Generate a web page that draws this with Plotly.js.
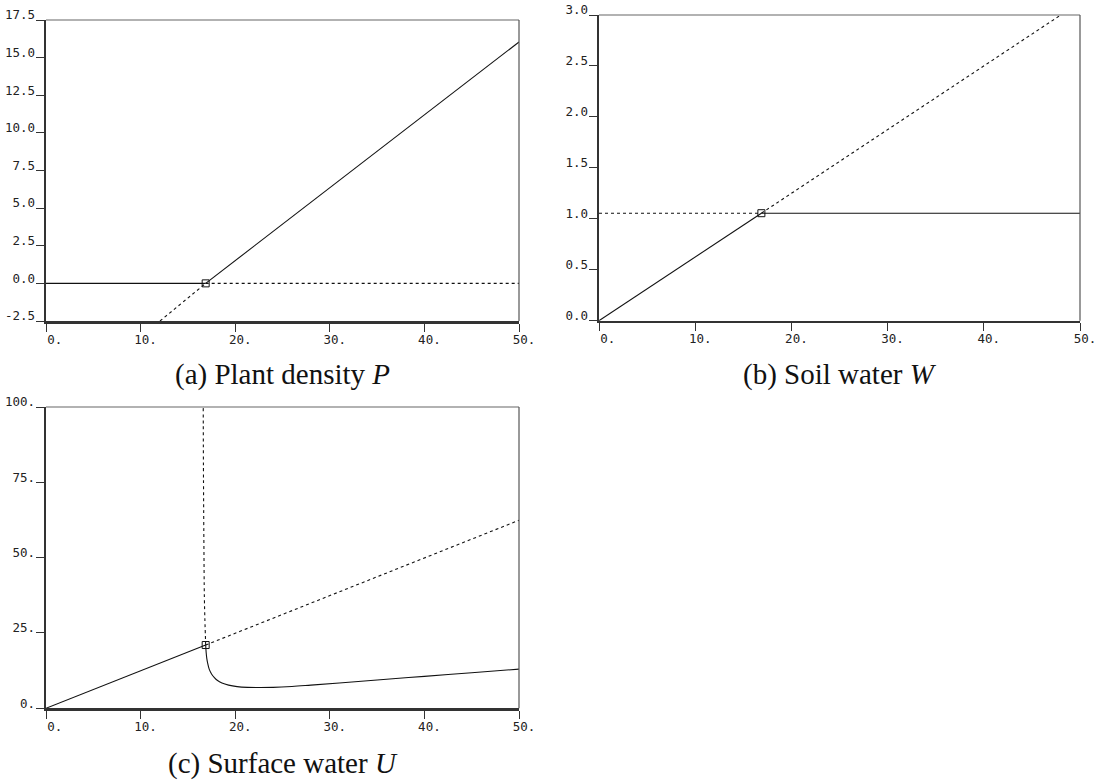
<!DOCTYPE html>
<html>
<head>
<meta charset="utf-8">
<script src="https://cdn.plot.ly/plotly-3.0.1.min.js"></script>
<style>html,body{margin:0;padding:0;background:#fff}#chart{width:1097px;height:781px}</style>
</head>
<body>
<div id="chart"></div>
<script>
// ---------- data ----------
// bifurcation point (transcritical)
const bifR = [16.88];
const bifP = [0];
const bifW = [1.055];
const bifU = [21.0];

// (a) Plant density P
const aTrivStableR = [0, 16.88];
const aTrivStableP = [0, 0];
const aTrivUnstR = [16.88, 50];
const aTrivUnstP = [0, 0];
const aVegStableR = [16.88, 30, 50];
const aVegStableP = [0, 6.35, 16.04];
const aVegUnstR = [12.05, 14.5, 16.88];
const aVegUnstP = [-2.5, -1.22, 0];

// (b) Soil water W
const bTrivStableR = [0, 16.88];
const bTrivStableW = [0, 1.055];
const bTrivUnstR = [16.88, 48.0];
const bTrivUnstW = [1.055, 3.0];
const bVegStableR = [16.88, 50];
const bVegStableW = [1.055, 1.055];
const bVegUnstR = [0, 16.88];
const bVegUnstW = [1.055, 1.055];

// (c) Surface water U
const cTrivStableR = [0, 16.88];
const cTrivStableU = [0, 21.0];
const cTrivUnstR = [16.88, 50];
const cTrivUnstU = [21.0, 62.4];
const cVegStableR = [16.88, 16.93, 17.0, 17.1, 17.25, 17.5, 17.8, 18.1, 18.6, 19.3, 20.2, 21.3, 22.5, 24, 26, 28, 31, 35, 40, 45, 50];
const cVegStableU = [21.0, 18.5, 16.5, 14.8, 13.0, 11.4, 10.2, 9.3, 8.4, 7.7, 7.2, 6.95, 6.9, 6.95, 7.25, 7.7, 8.4, 9.4, 10.6, 11.8, 13.0];
const cVegUnstR = [16.88, 16.85, 16.8, 16.74, 16.69, 16.65, 16.62];
const cVegUnstU = [21.0, 24, 29, 37, 55, 75, 100];

// tick labels
const xTickVals = [0, 10, 20, 30, 40, 50];
const xTickText = ['\u00a00.', '10.', '20.', '30.', '40.', '50.'];
const aTickVals = [-2.5, 0, 2.5, 5, 7.5, 10, 12.5, 15, 17.5];
const aTickText = ['-2.5', '0.0', '2.5', '5.0', '7.5', '10.0', '12.5', '15.0', '17.5'];
const bTickVals = [0, 0.5, 1, 1.5, 2, 2.5, 3];
const bTickText = ['0.0', '0.5', '1.0', '1.5', '2.0', '2.5', '3.0'];
const cTickVals = [0, 25, 50, 75, 100];
const cTickText = ['0.', '25.', '50.', '75.', '100.'];

const captions = ['(a) Plant density <i>P</i>', '(b) Soil water <i>W</i>', '(c) Surface water <i>U</i>'];

// ---------- styles ----------
const solid = {color: '#111', width: 1.1};
const dashed = {color: '#111', width: 1.1, dash: '3px,3px'};
const mk = {symbol: 'square-open', size: 7, color: '#111', line: {width: 1, color: '#111'}};

function ln(x, y, xa, ya, line) {
  return {x: x, y: y, xaxis: xa, yaxis: ya, type: 'scatter', mode: 'lines', line: line, hoverinfo: 'skip', showlegend: false};
}
function pt(x, y, xa, ya) {
  return {x: x, y: y, xaxis: xa, yaxis: ya, type: 'scatter', mode: 'markers', marker: mk, hoverinfo: 'skip', showlegend: false, cliponaxis: false};
}

const traces = [
  ln(aTrivStableR, aTrivStableP, 'x', 'y', solid),
  ln(aTrivUnstR, aTrivUnstP, 'x', 'y', dashed),
  ln(aVegStableR, aVegStableP, 'x', 'y', solid),
  ln(aVegUnstR, aVegUnstP, 'x', 'y', dashed),
  pt(bifR, bifP, 'x', 'y'),

  ln(bTrivStableR, bTrivStableW, 'x2', 'y2', solid),
  ln(bTrivUnstR, bTrivUnstW, 'x2', 'y2', dashed),
  ln(bVegStableR, bVegStableW, 'x2', 'y2', solid),
  ln(bVegUnstR, bVegUnstW, 'x2', 'y2', dashed),
  pt(bifR, bifW, 'x2', 'y2'),

  ln(cTrivStableR, cTrivStableU, 'x3', 'y3', solid),
  ln(cTrivUnstR, cTrivUnstU, 'x3', 'y3', dashed),
  ln(cVegStableR, cVegStableU, 'x3', 'y3', {color: '#111', width: 1.1, shape: 'spline'}),
  ln(cVegUnstR, cVegUnstU, 'x3', 'y3', {color: '#111', width: 1.1, dash: '3px,3px', shape: 'spline'}),
  pt(bifR, bifU, 'x3', 'y3')
];

const W = 1097, H = 781;
function dx(a, b) { return [a / W, b / W]; }
function dy(top, bottom) { return [(H - bottom) / H, (H - top) / H]; }

const tickFont = {family: 'DejaVu Sans Mono, monospace', size: 12.5, color: '#222'};
function xax(domain, anchor) {
  return {domain: domain, anchor: anchor, range: [0, 50], showgrid: false, zeroline: false,
    showline: true, linewidth: 2.5, linecolor: '#333', ticks: 'outside', ticklen: 8, tickwidth: 1,
    tickcolor: '#333', tickmode: 'array', tickvals: xTickVals, ticktext: xTickText,
    tickfont: tickFont, ticklabelshift: 5, ticklabelstandoff: -3, fixedrange: true};
}
function yax(domain, anchor, range, vals, text) {
  return {domain: domain, anchor: anchor, range: range, showgrid: false, zeroline: false,
    showline: true, linewidth: 2.5, linecolor: '#333', ticks: 'outside', ticklen: 8, tickwidth: 1,
    tickcolor: '#333', tickmode: 'array', tickvals: vals, ticktext: text,
    tickfont: tickFont, ticklabelshift: -5, ticklabelstandoff: -2, fixedrange: true};
}

function border(xr, yr) {
  return [
    {type: 'line', xref: xr + ' domain', yref: yr + ' domain', x0: 0, x1: 1, y0: 1, y1: 1, line: {color: '#666', width: 1.2}},
    {type: 'line', xref: xr + ' domain', yref: yr + ' domain', x0: 1, x1: 1, y0: 0, y1: 1, line: {color: '#555', width: 1.2}}
  ];
}

const capFont = {family: 'Liberation Serif, Times New Roman, serif', size: 29, color: '#111'};

const layout = {
  width: W, height: H,
  margin: {l: 0, r: 0, t: 0, b: 0},
  paper_bgcolor: '#fff', plot_bgcolor: '#fff',
  showlegend: false,
  xaxis: xax(dx(46, 519), 'y'),
  yaxis: yax(dy(20, 321), 'x', [-2.5, 17.5], aTickVals, aTickText),
  xaxis2: xax(dx(599, 1080), 'y2'),
  yaxis2: yax(dy(15, 320.7), 'x2', [0, 3], bTickVals, bTickText),
  xaxis3: xax(dx(46, 519), 'y3'),
  yaxis3: yax(dy(407, 708.3), 'x3', [0, 100], cTickVals, cTickText),
  shapes: [].concat(border('x', 'y'), border('x2', 'y2'), border('x3', 'y3')),
  annotations: [
    {text: captions[0], xref: 'paper', yref: 'paper', x: 282.5 / W, y: (H - 374) / H, showarrow: false, xanchor: 'center', yanchor: 'middle', font: capFont},
    {text: captions[1], xref: 'paper', yref: 'paper', x: 839.5 / W, y: (H - 374) / H, showarrow: false, xanchor: 'center', yanchor: 'middle', font: capFont},
    {text: captions[2], xref: 'paper', yref: 'paper', x: 282.5 / W, y: (H - 763) / H, showarrow: false, xanchor: 'center', yanchor: 'middle', font: capFont}
  ]
};

Plotly.newPlot('chart', traces, layout, {staticPlot: true, displayModeBar: false});
</script>
</body>
</html>
